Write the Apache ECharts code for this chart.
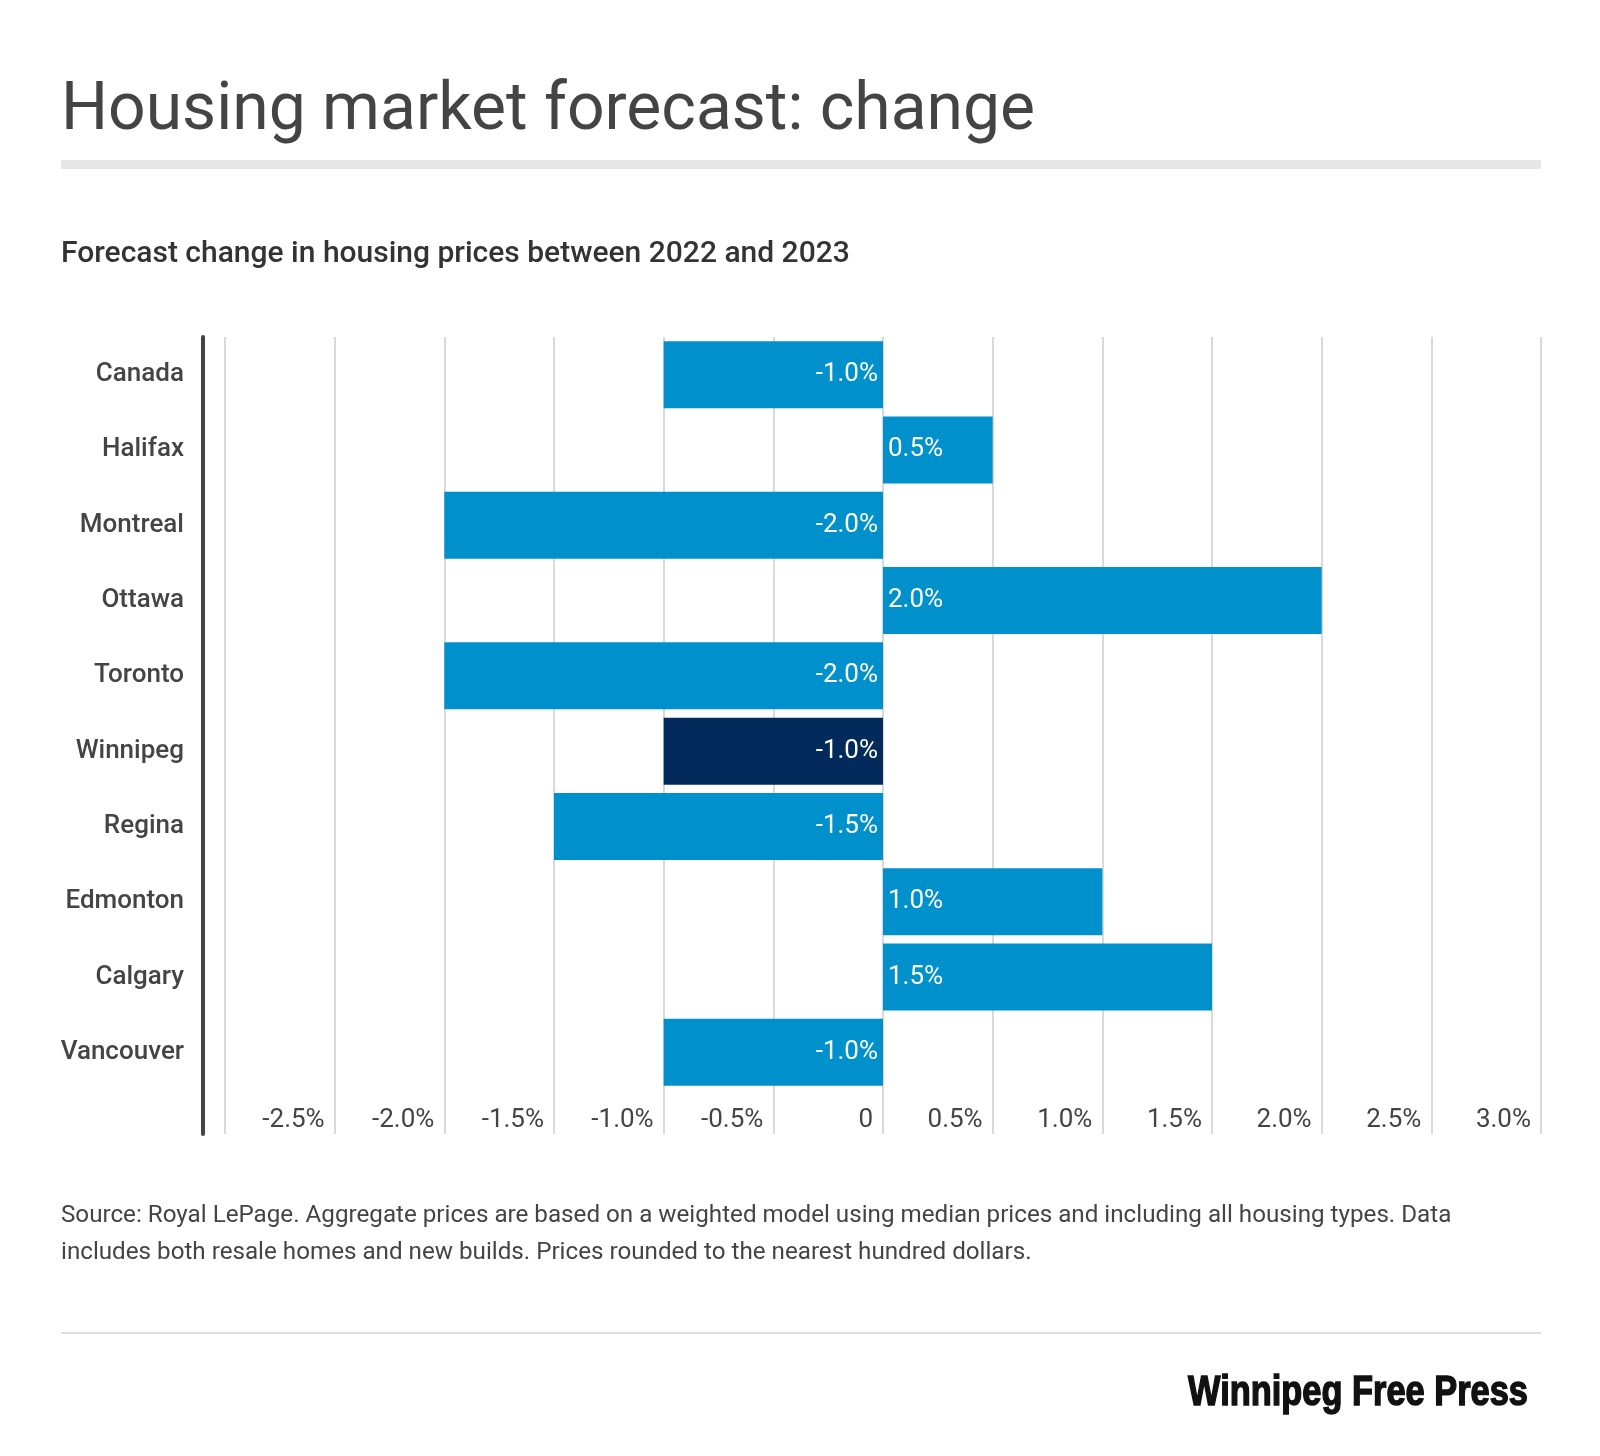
<!DOCTYPE html>
<html>
<head>
<meta charset="utf-8">
<script src="https://cdn.jsdelivr.net/npm/echarts@6/dist/echarts.min.js"></script>
<style>
html,body{margin:0;padding:0;background:#fff;}
#chart{width:1600px;height:1456px;}
</style>
</head>
<body>
<div id="chart"></div>
<script>
const categories = ['Canada','Halifax','Montreal','Ottawa','Toronto','Winnipeg','Regina','Edmonton','Calgary','Vancouver'];
const values = [-1.0, 0.5, -2.0, 2.0, -2.0, -1.0, -1.5, 1.0, 1.5, -1.0];
const highlighted = 'Winnipeg';
const axisMin = -3.0, axisMax = 3.0, axisStep = 0.5;
const titleText = 'Housing market forecast: change';
const subtitleText = 'Forecast change in housing prices between 2022 and 2023';
const sourceLines = [
  'Source: Royal LePage. Aggregate prices are based on a weighted model using median prices and including all housing types. Data',
  'includes both resale homes and new builds. Prices rounded to the nearest hundred dollars.'
];
const brandText = 'Winnipeg Free Press';

const BLUE = '#0091cd', NAVY = '#022a5b';
const FONT = 'Roboto, "Noto Sans", sans-serif';

const chart = echarts.init(document.getElementById('chart'), null, {renderer:'canvas'});
const fmtTick = v => v === 0 ? '0' : v.toFixed(1) + '%';

const barData = values.map((v, i) => ({
  value: v,
  itemStyle: {color: categories[i] === highlighted ? NAVY : BLUE},
  label: {position: v < 0 ? 'insideRight' : 'insideLeft', distance: 5}
}));

const xBase = {
  type: 'value', min: axisMin, max: axisMax, interval: axisStep,
  axisLine: {show: false}, axisTick: {show: false},
  splitLine: {show: true, lineStyle: {color: '#d9d9d9', width: 2}}
};

chart.setOption({
  backgroundColor: '#fff',
  animation: false,
  grid: [
    {left: 225, right: 59, top: 337, height: 753},
    {left: 225, right: 59, top: 1090, height: 44}
  ],
  xAxis: [
    Object.assign({}, xBase, {gridIndex: 0, axisLabel: {show: false}}),
    Object.assign({}, xBase, {gridIndex: 1, position: 'bottom',
      axisLabel: {show: true, inside: true, margin: 1, align: 'right', padding: [0, 10, 0, 0],
        showMinLabel: false, fontSize: 26, color: '#444', fontFamily: FONT, formatter: fmtTick}})
  ],
  yAxis: [
    {gridIndex: 0, type: 'category', data: categories, inverse: true, offset: 22,
      axisLine: {show: true, onZero: false, lineStyle: {color: '#444', width: 4}},
      axisTick: {show: false},
      axisLabel: {margin: 19, fontSize: 26, fontWeight: 500, color: '#444', fontFamily: FONT},
      splitLine: {show: false}},
    {gridIndex: 1, type: 'category', data: [''], offset: 22,
      axisLine: {show: true, onZero: false, lineStyle: {color: '#444', width: 4}},
      axisTick: {show: false}, axisLabel: {show: false}, splitLine: {show: false}}
  ],
  series: [{
    type: 'bar', xAxisIndex: 0, yAxisIndex: 0, data: barData, barWidth: 67,
    label: {show: true, color: '#fff', fontSize: 26, fontFamily: FONT,
      formatter: p => p.value.toFixed(1) + '%'}
  }],
  graphic: [
    {type: 'text', x: 61, y: 112, style: {text: titleText, font: '400 66px ' + FONT, fill: '#444', textVerticalAlign: 'middle'}},
    {type: 'rect', shape: {x: 61, y: 160, width: 1480, height: 9}, style: {fill: '#e6e6e6'}},
    {type: 'text', x: 61, y: 254, style: {text: subtitleText, font: '500 30px ' + FONT, fill: '#333', textVerticalAlign: 'middle'}},
    {type: 'text', x: 61, y: 1216, style: {text: sourceLines[0], font: '400 24.2px ' + FONT, fill: '#444', textVerticalAlign: 'middle'}},
    {type: 'text', x: 61, y: 1253, style: {text: sourceLines[1], font: '400 24.2px ' + FONT, fill: '#444', textVerticalAlign: 'middle'}},
    {type: 'rect', shape: {x: 61, y: 1332, width: 1480, height: 2}, style: {fill: '#dddddd'}},
    {type: 'text', x: 1528, y: 1393, scaleX: 0.8, style: {text: brandText, font: 'bold 43px "Liberation Sans", sans-serif', fill: '#111', stroke: '#111', lineWidth: 1.5, textAlign: 'right', textVerticalAlign: 'middle'}}
  ]
});
</script>
</body>
</html>
